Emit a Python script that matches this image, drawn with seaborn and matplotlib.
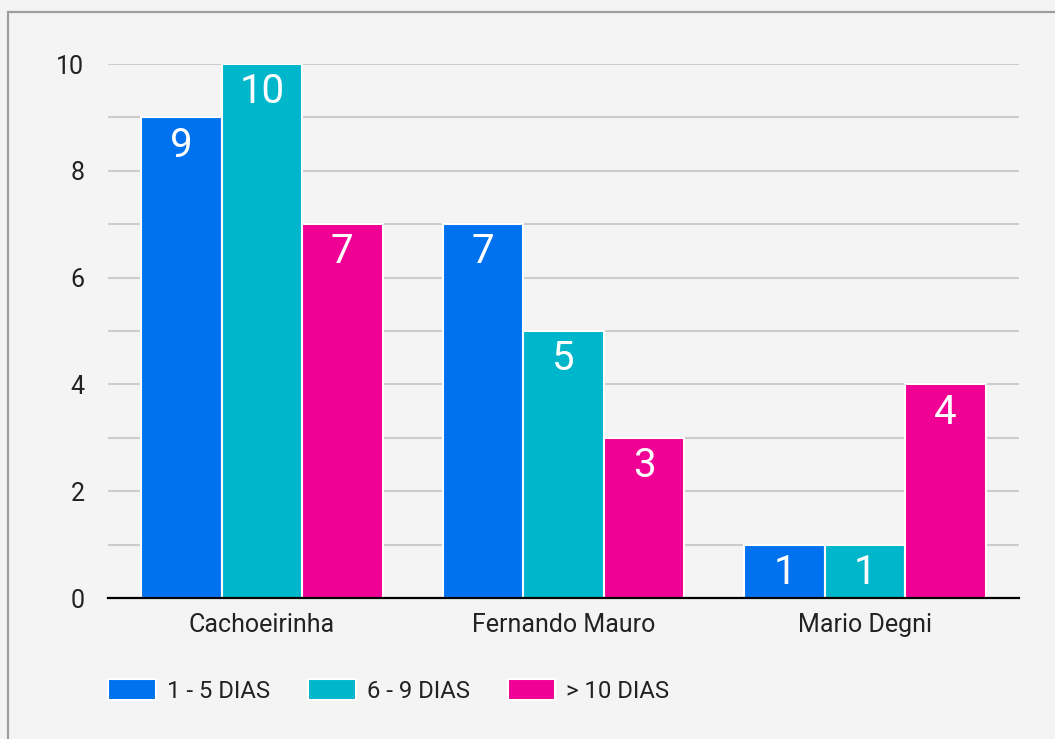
import pandas as pd
import matplotlib.pyplot as plt
import seaborn as sns
from matplotlib.patches import Rectangle

# Data
locais = ['Cachoeirinha', 'Fernando Mauro', 'Mario Degni']
faixas = ['1 - 5 DIAS', '6 - 9 DIAS', '> 10 DIAS']
dias_1_5 = [9, 7, 1]
dias_6_9 = [10, 5, 1]
dias_10 = [7, 3, 4]
cores = ['#0072f0', '#00b6cb', '#f10096']

df = pd.DataFrame({
    'local': locais * 3,
    'faixa': [f for f in faixas for _ in locais],
    'valor': dias_1_5 + dias_6_9 + dias_10,
})

sns.set_style('white')
plt.rcParams['font.family'] = ['Roboto', 'DejaVu Sans']

fig = plt.figure(figsize=(10.55, 7.39), dpi=100, facecolor='#f4f4f4')
ax = fig.add_axes([108 / 1055, 1 - 598 / 739, (1019 - 108) / 1055, (598 - 64) / 739])
ax.set_facecolor('#f4f4f4')

sns.barplot(data=df, x='local', y='valor', hue='faixa', order=locais, hue_order=faixas,
            palette=cores, saturation=1, width=0.8, edgecolor='white', linewidth=1.5,
            ax=ax, zorder=3)

# Value labels inside the bars
for c in ax.containers:
    ax.bar_label(c, padding=-34, color='white', fontsize=29)

# Axes styling
ax.set_ylim(0, 10)
ax.set_xlim(-0.51, 2.51)
ax.set_yticks(range(0, 11, 2))
ax.set_yticks(range(1, 11, 2), minor=True)
ax.grid(axis='y', which='both', color='#cccccc', linewidth=1.5, zorder=0)
ax.set_axisbelow(True)
for s in ['left', 'right', 'top']:
    ax.spines[s].set_visible(False)
ax.spines['bottom'].set_color('black')
ax.spines['bottom'].set_linewidth(1.6)
ax.spines['bottom'].set_zorder(4)
ax.tick_params(axis='y', length=0, pad=17, labelsize=18, labelcolor='#222222')
ax.tick_params(axis='y', which='minor', length=0)
ax.tick_params(axis='x', length=0, pad=11, labelsize=18, labelcolor='#222222')
ax.set_xlabel('')
ax.set_ylabel('')

# Legend
handles, labels = ax.get_legend_handles_labels()
ax.legend(handles, labels, loc='center left', ncol=3, frameon=False,
          bbox_to_anchor=(108 / 1055, 1 - 691 / 739), bbox_transform=fig.transFigure,
          fontsize=17.2, handlelength=2.0, handleheight=1.0, handletextpad=0.46,
          columnspacing=1.59, borderpad=0, borderaxespad=0, labelcolor='#222222')

# Outer border (top and left visible)
fig.patches.append(Rectangle((8 / 1055, -0.1), 1.2, 1.1 - 12.5 / 739,
                             transform=fig.transFigure, fill=False,
                             edgecolor='#9e9e9e', linewidth=1.6))

fig.savefig('out.png', dpi=100, facecolor=fig.get_facecolor())
